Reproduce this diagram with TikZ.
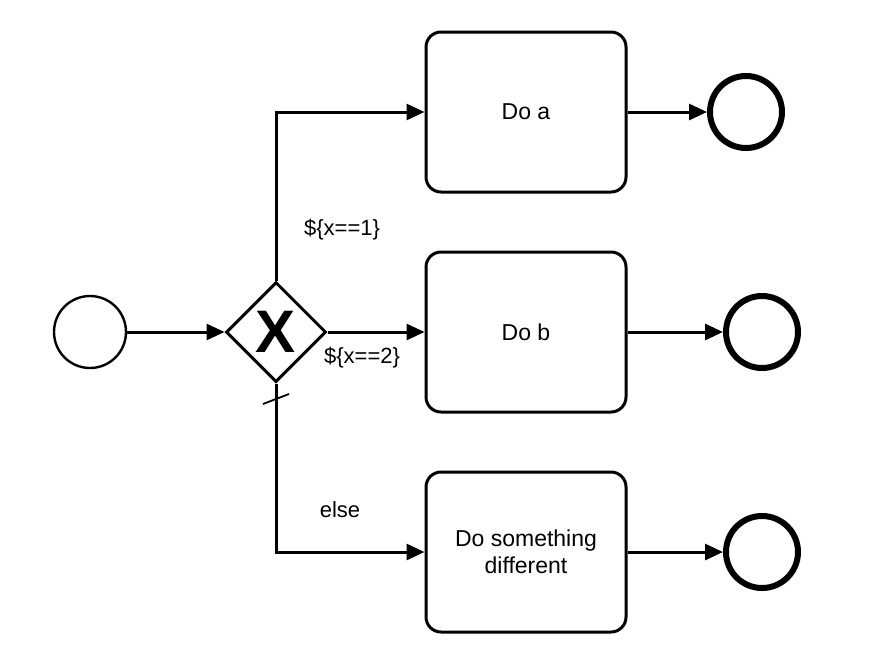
\documentclass[tikz,border=0pt]{standalone}
\usepackage{fontspec}
\setmainfont{Liberation Sans}
\usetikzlibrary{positioning, arrows.meta, shapes.geometric}

\tikzset{
    task/.style={draw, line width=3pt, rounded corners=15pt, minimum width=200pt, minimum height=160pt, align=center, font=\fontsize{23}{27}\selectfont},
    startev/.style={draw, circle, line width=2.4pt, minimum size=72pt, inner sep=0pt},
    endev/.style={draw, circle, line width=6pt, minimum size=72pt, inner sep=0pt},
    gateway/.style={draw, diamond, line width=3pt, minimum size=100pt, inner sep=0pt, font=\fontsize{60}{60}\selectfont\bfseries},
    flow/.style={line width=3pt, -{Triangle[length=18pt, width=16pt]}},
    cond/.style={font=\fontsize{22}{26}\selectfont}
}

\begin{document}
\begin{tikzpicture}[x=1pt, y=-1pt]
\useasboundingbox (0,0) rectangle (882,654);

% Start event and gateway
\node[startev] (start) at (90,332) {};
\node[gateway] (gw) at (276,332) {X};

% Tasks
\node[task] (doa) at (526,112) {Do a};
\node[task] (dob) at (526,332) {Do b};
\node[task] (doc) at (526,552) {Do something\\different};

% End events
\node[endev] (enda) at (746,112) {};
\node[endev] (endb) at (762,332) {};
\node[endev] (endc) at (762,552) {};

% Sequence flows
\draw[flow] (start) -- (gw);
\draw[flow] (gw.north) |- (doa);
\draw[flow] (gw) -- (dob);
\draw[flow] (gw.south) |- (doc);
\draw[flow] (doa) -- (enda);
\draw[flow] (dob) -- (endb);
\draw[flow] (doc) -- (endc);

% Default marker on the else flow
\coordinate (defa) at (263,404);
\coordinate (defb) at (289,394);
\draw[line width=1.8pt] (defa) -- (defb);

% Conditions
\node[cond] (c1) at (342,230) {\$\{x==1\}};
\node[cond] (c2) at (362,358) {\$\{x==2\}};
\node[cond] (c3) at (340,510) {else};

\end{tikzpicture}
\end{document}
